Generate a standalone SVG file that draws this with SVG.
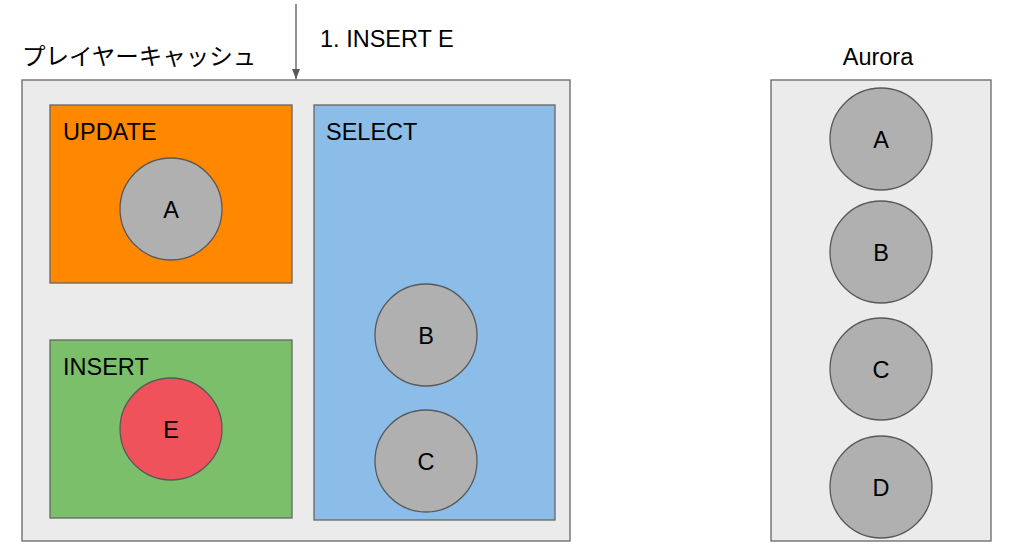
<svg xmlns="http://www.w3.org/2000/svg" width="1014" height="560" viewBox="0 0 1014 560">
<style>
text{font-family:"Liberation Sans","Noto Sans CJK JP",sans-serif;font-size:23.5px;fill:#000}
.c{text-anchor:middle}
.box{stroke:#666;stroke-width:1.3}
.n{fill:#b0b0b0;stroke:#595959;stroke-width:1.3}
</style>
<defs>
<marker id="ah" viewBox="0 0 10 10" refX="10" refY="5" markerWidth="10" markerHeight="10" markerUnits="userSpaceOnUse" orient="auto">
<path d="M0,1 L10,5 L0,9 z" fill="#595959"/>
</marker>
</defs>
<rect width="1014" height="560" fill="#fff"/>
<g id="cache">
<rect class="box" x="22" y="80" width="548" height="461" fill="#ebebeb"/>
<text x="22" y="65">プレイヤーキャッシュ</text>
</g>
<g id="update">
<rect class="box" x="50" y="105" width="242" height="178" fill="#ff8800"/>
<text x="63" y="140">UPDATE</text>
</g>
<g id="select">
<rect class="box" x="314" y="105" width="241" height="415" fill="#8bbde8"/>
<text x="326" y="140">SELECT</text>
</g>
<g id="insert">
<rect class="box" x="50" y="340" width="242" height="178" fill="#7bbf6a"/>
<text x="63" y="375">INSERT</text>
</g>
<g id="aurora">
<rect class="box" x="771" y="80" width="220" height="461" fill="#ebebeb"/>
<text class="c" x="878" y="65">Aurora</text>
</g>
<g id="nodeA1"><circle class="n" cx="171" cy="209" r="51"/><text class="c" x="171" y="218">A</text></g>
<g id="nodeE"><circle class="n" cx="171" cy="429" r="51" style="fill:#ef525b"/><text class="c" x="171" y="438">E</text></g>
<g id="nodeB1"><circle class="n" cx="426" cy="335" r="51"/><text class="c" x="426" y="344">B</text></g>
<g id="nodeC1"><circle class="n" cx="426" cy="461" r="51"/><text class="c" x="426" y="470">C</text></g>
<g id="nodeA2"><circle class="n" cx="881" cy="139" r="51"/><text class="c" x="881" y="148">A</text></g>
<g id="nodeB2"><circle class="n" cx="881" cy="252" r="51"/><text class="c" x="881" y="261">B</text></g>
<g id="nodeC2"><circle class="n" cx="881" cy="369" r="51"/><text class="c" x="881" y="378">C</text></g>
<g id="nodeD2"><circle class="n" cx="881" cy="487" r="51"/><text class="c" x="881" y="496">D</text></g>
<g id="connectors">
<line x1="296" y1="4" x2="296" y2="79" stroke="#595959" stroke-width="1.3" marker-end="url(#ah)"/>
<text x="320" y="47">1. INSERT E</text>
</g>
</svg>
